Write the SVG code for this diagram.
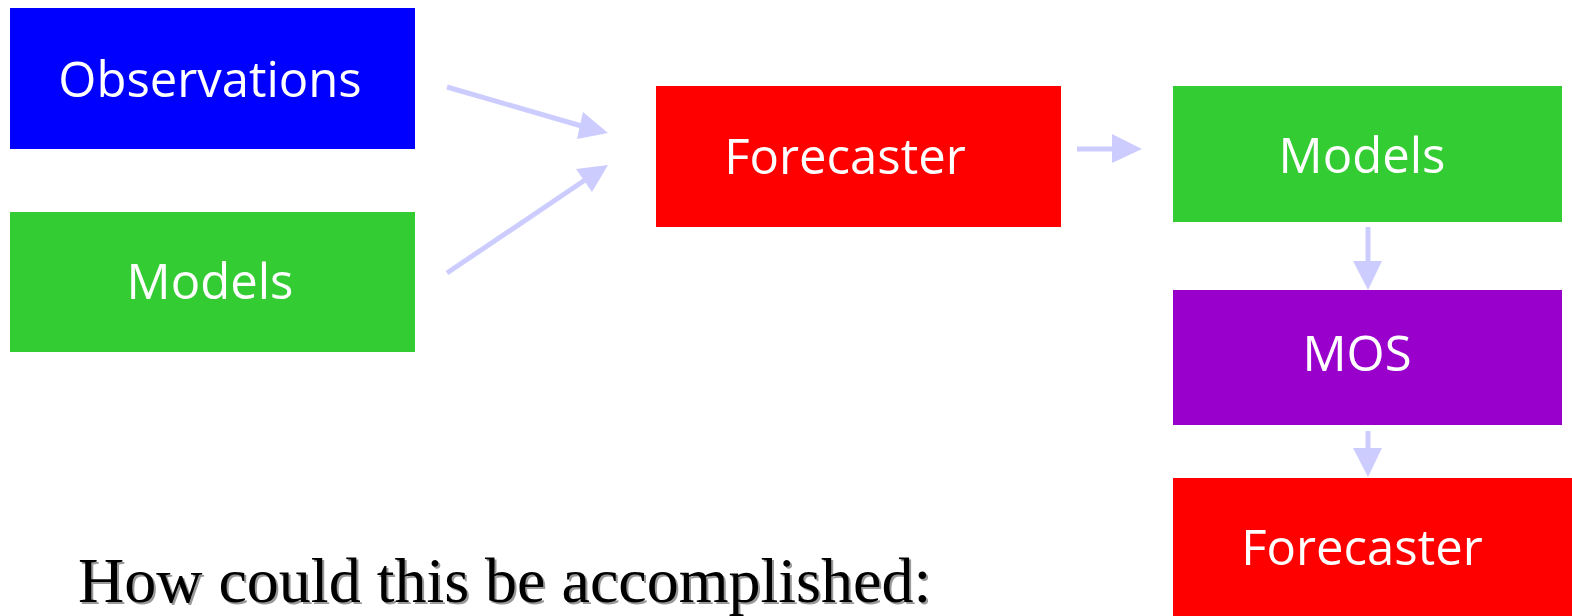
<svg xmlns="http://www.w3.org/2000/svg" width="1572" height="616" viewBox="0 0 1572 616">
<defs>
<style>
.lbl{font-family:"Open Sans","Noto Sans",sans-serif;font-size:49px;fill:#ffffff;text-anchor:middle}
.conn line{stroke:#ccccff;stroke-width:5}
.head{fill:#ccccff}
.cap{font-family:"Liberation Serif","Times New Roman",serif;font-size:64px}
</style>
</defs>
<rect width="1572" height="616" fill="#ffffff"/>
<g id="observations"><rect x="10" y="8" width="405" height="141" fill="#0000ff"/><text class="lbl" x="210" y="97">Observations</text></g>
<g id="models-left"><rect x="10" y="212" width="405" height="140" fill="#33cc33"/><text class="lbl" x="210" y="299">Models</text></g>
<g id="forecaster-center"><rect x="656" y="86" width="405" height="141" fill="#ff0000"/><text class="lbl" x="845" y="174">Forecaster</text></g>
<g id="models-right"><rect x="1173" y="86" width="389" height="136" fill="#33cc33"/><text class="lbl" x="1362" y="173">Models</text></g>
<g id="mos"><rect x="1173" y="290" width="389" height="135" fill="#9900cc"/><text class="lbl" x="1357" y="371">MOS</text></g>
<g id="forecaster-bottom"><rect x="1173" y="478" width="399" height="138" fill="#ff0000"/><text class="lbl" x="1362" y="565">Forecaster</text></g>
<g id="connectors" class="conn">
<line x1="447" y1="87" x2="585" y2="127"/>
<polygon class="head" points="608,133 577,139 583,112"/>
<line x1="447" y1="273" x2="588" y2="178"/>
<polygon class="head" points="608,165 592,192 576,169"/>
<line x1="1077" y1="149" x2="1114" y2="149"/>
<polygon class="head" points="1142,149 1112,134 1112,163"/>
<line x1="1368" y1="227" x2="1368" y2="263"/>
<polygon class="head" points="1368,290 1353,261 1382,261"/>
<line x1="1368" y1="431" x2="1368" y2="450"/>
<polygon class="head" points="1368,477 1353,448 1382,448"/>
</g>
<g id="caption">
<text class="cap" x="80" y="604" fill="#999999">How could this be accomplished:</text>
<text class="cap" x="78" y="602" fill="#000000">How could this be accomplished:</text>
</g>
</svg>
